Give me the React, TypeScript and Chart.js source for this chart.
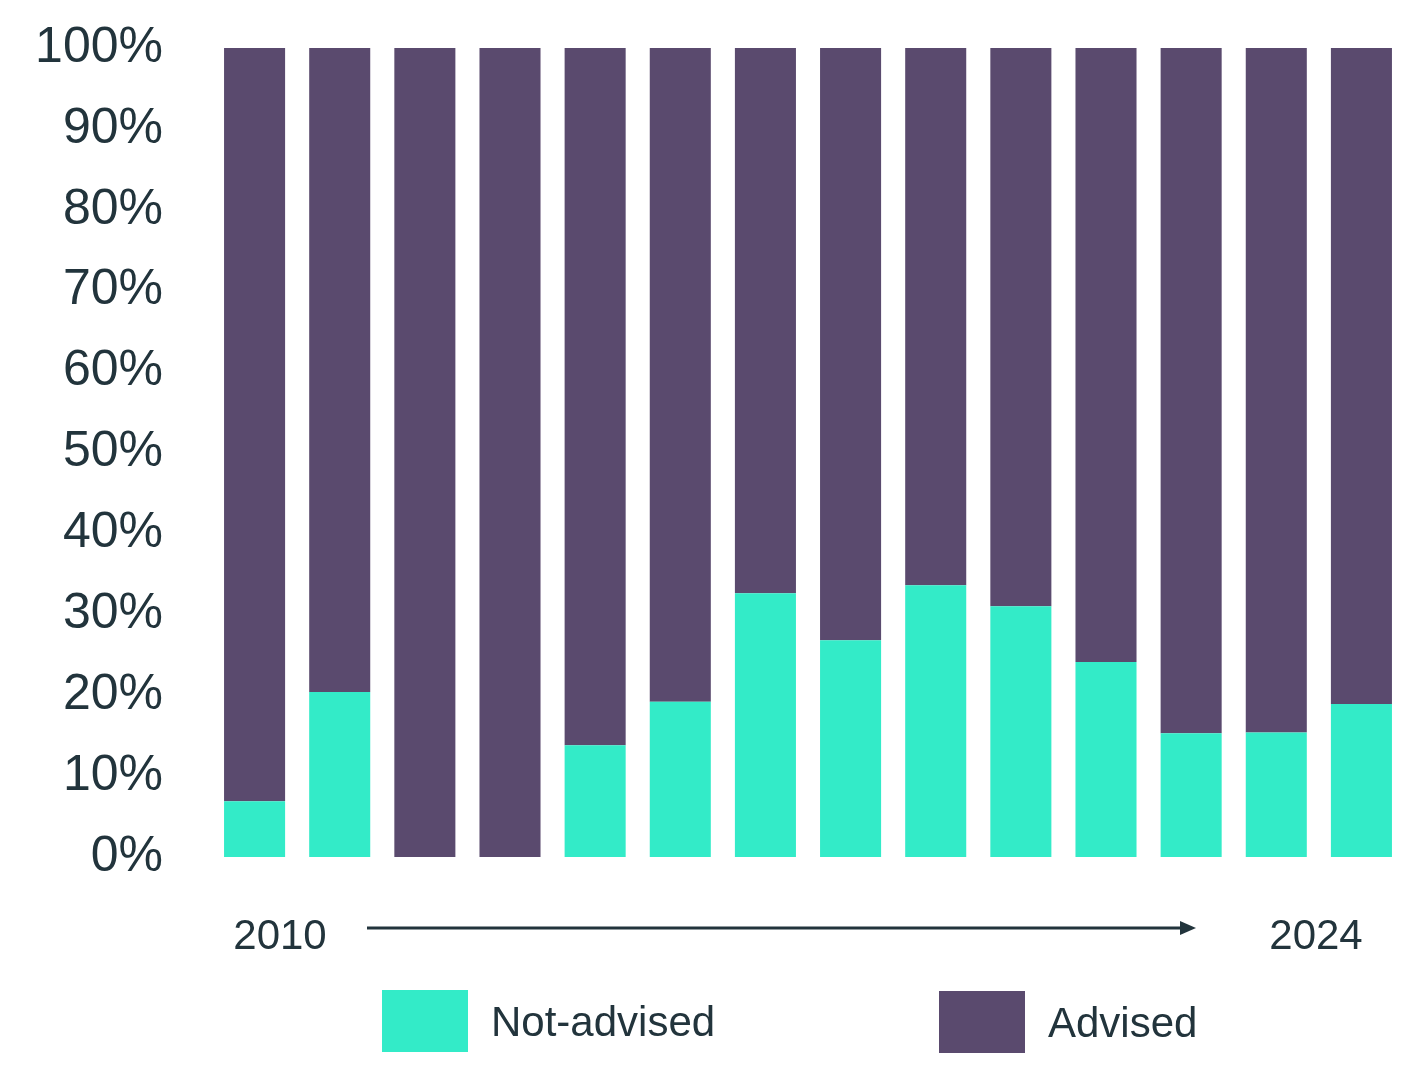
import React, { useEffect, useRef } from "react";
import { Chart, registerables } from "chart.js";

Chart.register(...registerables);

const categories = ["2010", "2011", "2012", "2013", "2014", "2015", "2016", "2017", "2018", "2019", "2020", "2021", "2022", "2023"];
const notAdvised = [6.9, 20.4, 0, 0, 13.8, 19.2, 32.6, 26.8, 33.6, 31.0, 24.1, 15.3, 15.4, 18.9];
const advised = notAdvised.map((v) => 100 - v);
const yTicks = [0, 10, 20, 30, 40, 50, 60, 70, 80, 90, 100];
const startLabel = "2010";
const endLabel = "2024";
const seriesNames = ["Not-advised", "Advised"];
const seriesColors = ["#33EBC8", "#5A4A6E"];
const textColor = "#22343C";
const fontFamily = "'Liberation Sans', Arial, sans-serif";

export default function App() {
  const ref = useRef<HTMLCanvasElement>(null);
  useEffect(() => {
    document.body.style.margin = "0";
    const canvas = ref.current!;
    const overlay = {
      id: "overlay",
      afterDraw(chart: any) {
        const ctx = chart.ctx;
        ctx.save();
        ctx.fillStyle = textColor;
        ctx.strokeStyle = textColor;
        ctx.font = `400 42px ${fontFamily}`;
        ctx.textBaseline = "alphabetic";
        ctx.textAlign = "center";
        ctx.fillText(startLabel, 280, 949);
        ctx.fillText(endLabel, 1316, 949);
        // arrow
        ctx.lineWidth = 3;
        ctx.beginPath();
        ctx.moveTo(367, 928);
        ctx.lineTo(1185, 928);
        ctx.stroke();
        ctx.beginPath();
        ctx.moveTo(1196, 928);
        ctx.lineTo(1180, 921);
        ctx.lineTo(1180, 935);
        ctx.closePath();
        ctx.fill();
        // legend
        const items = [
          { x: 382, y: 990 },
          { x: 939, y: 991 },
        ];
        items.forEach((it, i) => {
          ctx.fillStyle = seriesColors[i];
          ctx.fillRect(it.x, it.y, 86, 62);
          ctx.fillStyle = textColor;
          ctx.textAlign = "left";
          ctx.font = `400 42px ${fontFamily}`;
          ctx.fillText(seriesNames[i], it.x + 109, it.y + 46);
        });
        ctx.restore();
      },
    };
    const chart = new Chart(canvas, {
      type: "bar",
      data: {
        labels: categories,
        datasets: [
          { label: seriesNames[0], data: notAdvised, backgroundColor: seriesColors[0], barPercentage: 0.717, categoryPercentage: 1 },
          { label: seriesNames[1], data: advised, backgroundColor: seriesColors[1], barPercentage: 0.717, categoryPercentage: 1 },
        ],
      },
      options: {
        animation: false,
        responsive: false,
        layout: { padding: { top: 48, bottom: 209, right: 4, left: 0 } },
        plugins: { legend: { display: false }, tooltip: { enabled: false } },
        scales: {
          x: { stacked: true, display: false },
          y: {
            stacked: true,
            min: 0,
            max: 100,
            afterBuildTicks(scale: any) {
              scale.ticks = yTicks.map((v) => ({ value: v }));
            },
            afterFit(scale: any) {
              scale.width = 212;
              scale.paddingTop = 0;
              scale.paddingBottom = 0;
            },
            grid: { display: false, drawTicks: false },
            border: { display: false },
            ticks: {
              padding: 49,
              color: textColor,
              font: { family: fontFamily, size: 50, weight: 300 as any },
              callback: (v: any) => v + "%",
            },
          },
        },
      },
      plugins: [overlay],
    });
    return () => chart.destroy();
  }, []);
  return <canvas ref={ref} width={1408} height={1066} style={{ display: "block" }} />;
}
